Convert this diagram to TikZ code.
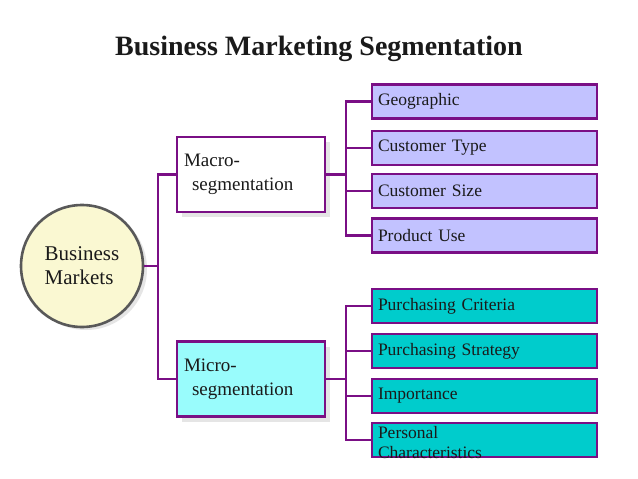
\documentclass[tikz,border=0pt]{standalone}
\usepackage{fontspec}
\setmainfont{Liberation Serif}
\usetikzlibrary{shadows}
\definecolor{bpurple}{HTML}{7A0F85}
\definecolor{lav}{HTML}{C2C2FF}
\definecolor{teal2}{HTML}{00CCCC}
\definecolor{microfill}{HTML}{99FCFC}
\definecolor{circfill}{HTML}{FAF8D2}
\definecolor{txt}{HTML}{1A1A1A}
\tikzset{
  conn/.style={draw=bpurple, line width=2.6pt},
  midbox/.style={draw=bpurple, line width=2.4pt, minimum width=148pt, minimum height=75pt,
     text width=134pt, inner xsep=7pt, align=left, text=txt,
     font=\fontsize{19}{24}\selectfont,
     drop shadow={shadow xshift=5pt, shadow yshift=-5pt, fill=black!10, opacity=1}},
  leaf/.style={draw=bpurple, line width=2.4pt, minimum width=225pt, minimum height=34pt,
     text width=213pt, inner xsep=6pt, inner ysep=0pt, align=left, text=txt,
     font=\fontsize{17.5}{20}\selectfont},
  leafA/.style={leaf, fill=lav},
  leafB/.style={leaf, fill=teal2},
}
\begin{document}
\begin{tikzpicture}[x=1pt, y=-1pt]
\useasboundingbox (0,0) rectangle (638,479);
\fill[white] (0,0) rectangle (638,479);
% title
\node[anchor=base, font=\fontsize{28}{32}\selectfont\bfseries, text=txt] (title) at (319,56) {Business Marketing Segmentation};
% root
\node[circle, draw=black!65, line width=2.6pt, fill=circfill, minimum size=122pt, inner sep=0pt,
      align=left, text=txt, font=\fontsize{21}{24}\selectfont,
      drop shadow={shadow xshift=4pt, shadow yshift=-3pt, fill=black!10, opacity=1}] (bm) at (82,266) {Business\\Markets};
% middle
\node[midbox, fill=white] (macro) at (251,174.5) {Macro-\\\hspace*{8pt}segmentation};
\node[midbox, fill=microfill] (micro) at (251,379) {Micro-\\\hspace*{8pt}segmentation};
% leaves top
\node[leafA] (geo) at (484.5,101.5) {Geographic};
\node[leafA] (ct) at (484.5,148) {Customer Type};
\node[leafA] (cs) at (484.5,191) {Customer Size};
\node[leafA] (pu) at (484.5,235.5) {Product Use};
% leaves bottom
\node[leafB] (pc) at (484.5,306) {Purchasing Criteria};
\node[leafB] (ps) at (484.5,351) {Purchasing Strategy};
\node[leafB] (im) at (484.5,396) {Importance};
\node[leafB] (pch) at (484.5,440) {\raisebox{3pt}{\smash{\begin{tabular}[t]{@{}l@{}}Personal\\Characteristics\end{tabular}}}};
% connectors
\coordinate (j1) at (158,266);
\coordinate (j2) at (346,174.5);
\coordinate (j3) at (346,379);
\draw[conn] (bm.east) -- (j1);
\draw[conn] (macro.west) -| (j1) |- (micro.west);
\draw[conn] (macro.east) -- (j2);
\draw[conn] (geo.west) -| (j2) |- (pu.west);
\draw[conn] (ct.west) -- (ct.west -| j2);
\draw[conn] (cs.west) -- (cs.west -| j2);
\draw[conn] (micro.east) -- (j3);
\draw[conn] (pc.west) -| (j3) |- (pch.west);
\draw[conn] (ps.west) -- (ps.west -| j3);
\draw[conn] (im.west) -- (im.west -| j3);
\end{tikzpicture}
\end{document}
